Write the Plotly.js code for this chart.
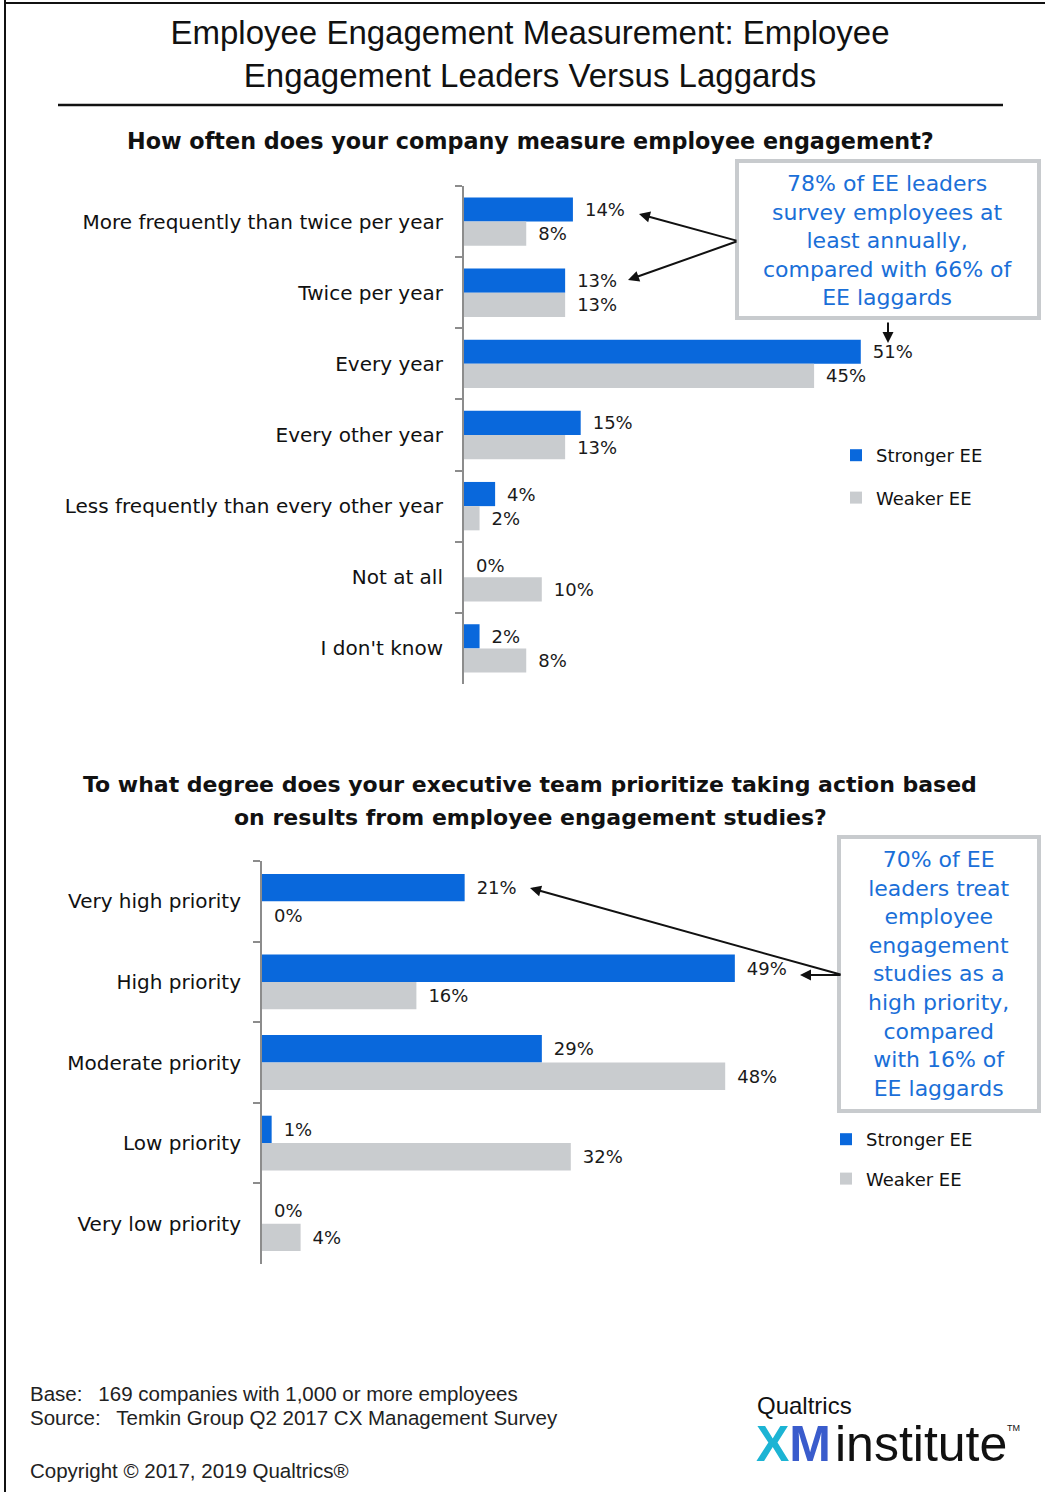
<!DOCTYPE html>
<html>
<head>
<meta charset="utf-8">
<script src="https://cdn.plot.ly/plotly-3.0.1.min.js"></script>
<style>html,body{margin:0;padding:0;background:#fff;}#chart{width:1045px;height:1492px;}</style>
</head>
<body>
<div id="chart"></div>
<script>
// ---- data ----
const freqCategories = ['More frequently than twice per year', 'Twice per year', 'Every year', 'Every other year', 'Less frequently than every other year', 'Not at all', "I don't know"];
const freqStronger = [14, 13, 51, 15, 4, 0, 2];
const freqWeaker = [8, 13, 45, 13, 2, 10, 8];

const prioCategories = ['Very high priority', 'High priority', 'Moderate priority', 'Low priority', 'Very low priority'];
const prioStronger = [21, 49, 29, 1, 0];
const prioWeaker = [0, 16, 48, 32, 4];

const seriesNames = ['Stronger EE', 'Weaker EE'];

// ---- layout helpers ----
const W = 1045, H = 1492;
const px = x => x / W;
const py = y => 1 - y / H;

const BLUE = '#0968dc';
const GRAY = '#c9cccf';
const NOTE = '#1a6fd8';
const FONT = 'DejaVu Sans, sans-serif';
const SANS = 'Liberation Sans, Arial, sans-serif';
const labelFont = {family: FONT, size: 18, color: '#1a1a1a'};

function barTrace(cats, vals, name, color, xa, ya, legend, group, show) {
  return {
    type: 'bar', orientation: 'h', y: cats, x: vals, name: name,
    xaxis: xa, yaxis: ya, legend: legend, legendgroup: group, showlegend: show,
    marker: {color: color, line: {width: 0}},
    text: vals.map(v => '\u2002' + v + '%'), textposition: 'outside',
    textfont: labelFont, cliponaxis: false, constraintext: 'none',
    hoverinfo: 'skip'
  };
}

const data = [
  barTrace(freqCategories, freqStronger, seriesNames[0], BLUE, 'x', 'y', 'legend', 'a', true),
  barTrace(freqCategories, freqWeaker, seriesNames[1], GRAY, 'x', 'y', 'legend', 'b', true),
  barTrace(prioCategories, prioStronger, seriesNames[0], BLUE, 'x2', 'y2', 'legend2', 'c', true),
  barTrace(prioCategories, prioWeaker, seriesNames[1], GRAY, 'x2', 'y2', 'legend2', 'd', true)
];

const yCommon = {
  type: 'category', autorange: 'reversed', showline: true, linecolor: '#8c8c8c', linewidth: 2,
  ticks: 'outside', tickson: 'boundaries', ticklen: 7, tickwidth: 2, tickcolor: '#8c8c8c',
  showgrid: false, zeroline: false, ticklabelstandoff: 15,
  tickfont: {family: FONT, size: 20, color: '#111'}
};
const xCommon = {showgrid: false, zeroline: false, showticklabels: false, showline: false, ticks: '', fixedrange: true};

function arrow(hx, hy, tx, ty) {
  return {xref: 'paper', yref: 'paper', x: px(hx), y: py(hy), ax: tx - hx, ay: ty - hy,
    text: '', showarrow: true, arrowhead: 2, arrowsize: 1.1, arrowwidth: 2, arrowcolor: '#111', standoff: 0, startstandoff: 0};
}
function txt(text, x, y, opts) {
  return Object.assign({xref: 'paper', yref: 'paper', x: px(x), y: py(y), text: text, showarrow: false,
    xanchor: 'center', yanchor: 'middle', font: {family: FONT, size: 18, color: '#111'}}, opts || {});
}

const layout = {
  width: W, height: H, autosize: false,
  margin: {l: 0, r: 0, t: 0, b: 0},
  paper_bgcolor: '#fff', plot_bgcolor: 'rgba(0,0,0,0)',
  barmode: 'group',
  bargap: 0.32, bargroupgap: 0,
  title: {text: 'Employee Engagement Measurement: Employee<br>Engagement Leaders Versus Laggards',
    x: px(530), xanchor: 'center', y: 1 - 44 / H, yanchor: 'top', yref: 'container',
    font: {family: SANS, size: 33, color: '#111'}},
  xaxis: Object.assign({}, xCommon, {domain: [px(464), 1], range: [0, 581 / 7.78], anchor: 'y'}),
  yaxis: Object.assign({}, yCommon, {domain: [py(684), py(186)], anchor: 'x'}),
  xaxis2: Object.assign({}, xCommon, {domain: [px(262), 1], range: [0, 783 / 9.65], anchor: 'y2'}),
  yaxis2: Object.assign({}, yCommon, {domain: [py(1264), py(861)], anchor: 'x2'}),
  legend: {x: px(836), y: py(437), xanchor: 'left', yanchor: 'top', traceorder: 'grouped', tracegroupgap: 16,
    font: {family: FONT, size: 18, color: '#111'}, bgcolor: 'rgba(0,0,0,0)', itemwidth: 30},
  legend2: {x: px(826), y: py(1121), xanchor: 'left', yanchor: 'top', traceorder: 'grouped', tracegroupgap: 13,
    font: {family: FONT, size: 18, color: '#111'}, bgcolor: 'rgba(0,0,0,0)', itemwidth: 30},
  shapes: [
    {type: 'line', xref: 'paper', yref: 'paper', x0: px(5), x1: px(5), y0: 0, y1: 1, line: {color: '#111', width: 2}},
    {type: 'line', xref: 'paper', yref: 'paper', x0: px(5), x1: 1, y0: py(3), y1: py(3), line: {color: '#111', width: 2}},
    {type: 'line', xref: 'paper', yref: 'paper', x0: px(58), x1: px(1003), y0: py(105), y1: py(105), line: {color: '#111', width: 2.5}},
    {type: 'rect', xref: 'paper', yref: 'paper', x0: px(737), x1: px(1039), y0: py(161), y1: py(318), line: {color: '#c8cbce', width: 4}},
    {type: 'rect', xref: 'paper', yref: 'paper', x0: px(839), x1: px(1039), y0: py(837), y1: py(1111), line: {color: '#c8cbce', width: 4}}
  ],
  annotations: [
    txt('<b>How often does your company measure employee engagement?</b>', 530, 141, {font: {family: FONT, size: 22.3, color: '#111'}}),
    txt('<b>To what degree does your executive team prioritize taking action based</b>', 530, 784, {font: {family: FONT, size: 22, color: '#111'}}),
    txt('<b>on results from employee engagement studies?</b>', 530, 817, {font: {family: FONT, size: 22, color: '#111'}}),
    txt('78% of EE leaders<br>survey employees at<br>least annually,<br>compared with 66% of<br>EE laggards', 888, 240, {font: {family: FONT, size: 22, color: NOTE}}),
    txt('70% of EE<br>leaders treat<br>employee<br>engagement<br>studies as a<br>high priority,<br>compared<br>with 16% of<br>EE laggards', 939, 974, {font: {family: FONT, size: 22, color: NOTE}}),
    arrow(639, 214, 738, 241),
    arrow(628, 280, 738, 241),
    arrow(888, 343, 888, 321),
    arrow(530, 888, 842, 975),
    arrow(800, 975, 842, 975),
    txt('Base:\u2002 169 companies with 1,000 or more employees', 28, 1393, {xanchor: 'left', font: {family: SANS, size: 20.5, color: '#222'}}),
    txt('Source:\u2002 Temkin Group Q2 2017 CX Management Survey', 28, 1417, {xanchor: 'left', font: {family: SANS, size: 20.5, color: '#222'}}),
    txt('Copyright \u00a9 2017, 2019 Qualtrics\u00ae', 28, 1470, {xanchor: 'left', font: {family: SANS, size: 20.5, color: '#222'}}),
    txt('Qualtrics', 755, 1405, {xanchor: 'left', font: {family: SANS, size: 24, color: '#111'}}),
    txt('<b><span style="color:#1cb4d4">X</span><span style="color:#3a5ccc">M</span></b>', 754, 1444, {xanchor: 'left', font: {family: SANS, size: 50, color: '#2a8ad0'}}),
    txt('institute', 833, 1444, {xanchor: 'left', font: {family: SANS, size: 50, color: '#111'}}),
    txt('TM', 1013, 1428, {font: {family: SANS, size: 9, color: '#111'}})
  ]
};

Plotly.newPlot('chart', data, layout, {staticPlot: true, displayModeBar: false});
</script>
</body>
</html>
